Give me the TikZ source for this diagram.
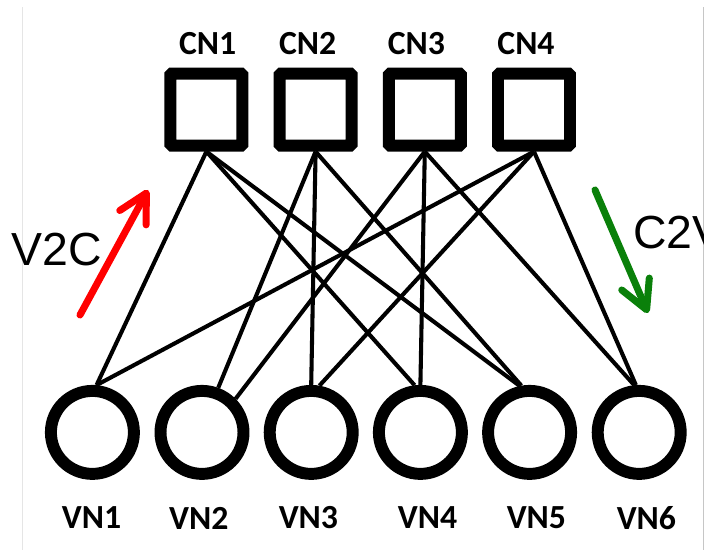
\documentclass[tikz,border=0pt]{standalone}
\usepackage{fontspec}
\setmainfont{Liberation Sans}
\newfontfamily\labelfont{Carlito}
\usepackage{tikz}
\usetikzlibrary{arrows.meta}
\definecolor{upcolor}{RGB}{255,0,0}
\definecolor{downcolor}{RGB}{10,128,10}

\begin{document}
\begin{tikzpicture}[
    check/.style={rectangle, draw, line width=8.5pt, minimum size=1.8cm, rounded corners=1pt, inner sep=0pt},
    var/.style={circle, draw, line width=8.5pt, minimum size=2.075cm, inner sep=0pt},
    link/.style={line width=2.9pt},
    lab/.style={font=\labelfont\bfseries\fontsize{24}{24}\selectfont, inner sep=0pt},
    tag/.style={font=\fontsize{33}{33}\selectfont, inner sep=0pt},
    flow/.style={line width=5pt, line cap=round, -{Straight Barb[length=7mm, width=7.5mm, round]}}
]
\useasboundingbox (0,0) rectangle (17.975,-13.75);

% frame edges
\draw[gray!20, line width=0.5pt] (0.55,-0.18) -- (0.55,-13.75);
\draw[gray!45, line width=0.5pt] (17.575,-0.18) -- (17.575,-13.75);

% check nodes
\node[check] (cn1) at (5.16,-2.74) {};
\node[check] (cn2) at (7.89,-2.74) {};
\node[check] (cn3) at (10.62,-2.74) {};
\node[check] (cn4) at (13.35,-2.74) {};

% variable nodes
\node[var] (vn1) at (2.31,-10.81) {};
\node[var] (vn2) at (5.05,-10.81) {};
\node[var] (vn3) at (7.78,-10.81) {};
\node[var] (vn4) at (10.51,-10.81) {};
\node[var] (vn5) at (13.24,-10.81) {};
\node[var] (vn6) at (15.98,-10.81) {};

\node[lab] (cn1lab) at (5.19,-1.09) {CN1};
\node[lab] (cn2lab) at (7.69,-1.09) {CN2};
\node[lab] (cn3lab) at (10.41,-1.09) {CN3};
\node[lab] (cn4lab) at (13.15,-1.09) {CN4};

\node[lab] (vn1lab) at (2.29,-12.95) {VN1};
\node[lab] (vn2lab) at (4.97,-12.95) {VN2};
\node[lab] (vn3lab) at (7.71,-12.95) {VN3};
\node[lab] (vn4lab) at (10.69,-12.95) {VN4};
\node[lab] (vn5lab) at (13.41,-12.95) {VN5};
\node[lab] (vn6lab) at (16.16,-12.95) {VN6};

% Tanner graph edges
\draw[link] (cn1.south) -- (vn1.85);
\draw[link] (cn1.south) -- (vn4.97);
\draw[link] (cn1.south) -- (vn5.102);
\draw[link] (cn2.south) -- (vn2.70);
\draw[link] (cn2.south) -- (vn3.90);
\draw[link] (cn2.south) -- (vn5.100);
\draw[link] (cn3.south) -- (vn2.45);
\draw[link] (cn3.south) -- (vn4.90);
\draw[link] (cn3.south) -- (vn6.96);
\draw[link] (cn4.south) -- (vn1.85);
\draw[link] (cn4.south) -- (vn3.80);
\draw[link] (cn4.south) -- (vn6.94);

% message directions
\coordinate (v2cfrom) at (2.0,-7.875);
\coordinate (v2cto) at (3.7,-4.75);
\coordinate (c2vfrom) at (14.875,-4.75);
\coordinate (c2vto) at (16.2,-7.825);
\draw[flow, upcolor] (v2cfrom) -- (v2cto);
\draw[flow, downcolor] (c2vfrom) -- (c2vto);

\node[tag] (v2c) at (1.425,-6.25) {V2C};
\begin{scope}
\clip (0,0) rectangle (17.575,-13.75);
\node[tag, anchor=west] (c2v) at (15.825,-5.825) {C2V};
\end{scope}
\end{tikzpicture}
\end{document}
